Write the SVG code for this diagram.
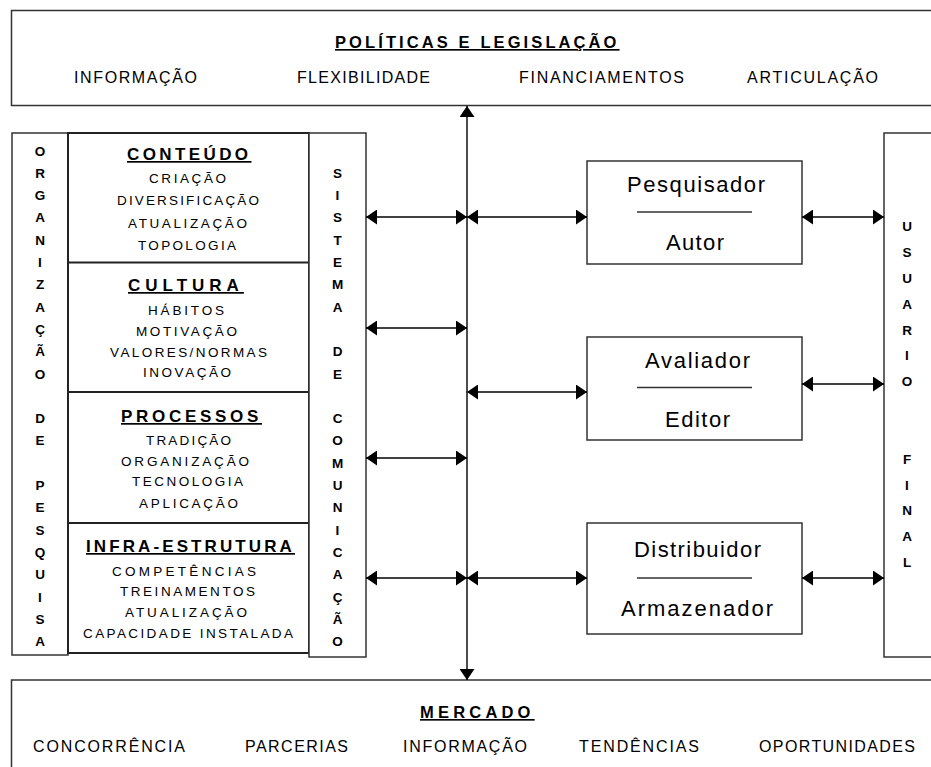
<svg xmlns="http://www.w3.org/2000/svg" width="931" height="767" viewBox="0 0 931 767">
<style>
  text { font-family: "Liberation Sans", Arial, sans-serif; fill: #000; }
  .box { fill: #fff; stroke: #333; stroke-width: 1.5; }
  .mid { fill: none; stroke: #222; stroke-width: 2; }
  .div { stroke: #222; stroke-width: 2; }
  .title { font-size: 16.5px; font-weight: bold; text-decoration: underline; }
  .item { font-size: 16px; }
  .stitle { font-size: 17px; font-weight: bold; text-decoration: underline; }
  .sitem { font-size: 13.5px; }
  .col { font-size: 13.5px; font-weight: bold; text-anchor: middle; }
  .role { font-size: 22px; }
  .sep { stroke: #333; stroke-width: 1.3; }
  .conn { stroke: #000; stroke-width: 1.4; fill: none; marker-start: url(#ah); marker-end: url(#ah); }
</style>
<defs>
  <marker id="ah" viewBox="0 0 11 15" refX="11" refY="7.5" markerWidth="11" markerHeight="15" markerUnits="userSpaceOnUse" orient="auto-start-reverse">
    <path d="M0,0 L11,7.5 L0,15 z" fill="#000"/>
  </marker>
</defs>
<rect width="931" height="767" fill="#fff"/>

<g id="politicas">
  <rect class="box" x="11.5" y="10.5" width="930" height="95"/>
  <text class="title" x="335" y="48" letter-spacing="3.1">POLÍTICAS E LEGISLAÇÃO</text>
  <text class="item" x="74" y="83" textLength="123" lengthAdjust="spacing">INFORMAÇÃO</text>
  <text class="item" x="297" y="83" textLength="133" lengthAdjust="spacing">FLEXIBILIDADE</text>
  <text class="item" x="519" y="83" textLength="165" lengthAdjust="spacing">FINANCIAMENTOS</text>
  <text class="item" x="747" y="83" textLength="131" lengthAdjust="spacing">ARTICULAÇÃO</text>
</g>

<g id="mercado">
  <rect class="box" x="11.5" y="680" width="930" height="100"/>
  <text class="title" x="420" y="718" letter-spacing="4.2">MERCADO</text>
  <text class="item" x="33" y="752" textLength="152" lengthAdjust="spacing">CONCORRÊNCIA</text>
  <text class="item" x="245" y="752" textLength="103" lengthAdjust="spacing">PARCERIAS</text>
  <text class="item" x="403" y="752" textLength="124" lengthAdjust="spacing">INFORMAÇÃO</text>
  <text class="item" x="579" y="752" textLength="120" lengthAdjust="spacing">TENDÊNCIAS</text>
  <text class="item" x="759" y="752" textLength="156" lengthAdjust="spacing">OPORTUNIDADES</text>
</g>

<g id="organizacao">
  <rect class="box" x="12" y="133" width="56" height="522"/>
  <text class="col">
    <tspan x="40" y="155.5">O</tspan><tspan x="40" y="177.8">R</tspan><tspan x="40" y="200.1">G</tspan><tspan x="40" y="222.4">A</tspan><tspan x="40" y="244.7">N</tspan><tspan x="40" y="267">I</tspan><tspan x="40" y="289.3">Z</tspan><tspan x="40" y="311.6">A</tspan><tspan x="40" y="333.9">Ç</tspan><tspan x="40" y="356.2">Ã</tspan><tspan x="40" y="378.5">O</tspan><tspan x="40" y="423.1">D</tspan><tspan x="40" y="445.4">E</tspan><tspan x="40" y="490">P</tspan><tspan x="40" y="512.3">E</tspan><tspan x="40" y="534.6">S</tspan><tspan x="40" y="556.9">Q</tspan><tspan x="40" y="579.2">U</tspan><tspan x="40" y="601.5">I</tspan><tspan x="40" y="623.8">S</tspan><tspan x="40" y="646.1">A</tspan>
  </text>
</g>

<g id="fatores">
  <rect class="mid" x="68" y="133" width="241" height="520"/>
  <line class="div" x1="68" y1="262.5" x2="309" y2="262.5"/>
  <line class="div" x1="68" y1="392" x2="309" y2="392"/>
  <line class="div" x1="68" y1="523" x2="309" y2="523"/>
</g>

<g id="conteudo">
  <text class="stitle" x="127" y="160" letter-spacing="3.4">CONTEÚDO</text>
  <text class="sitem" x="149" y="183" textLength="77" lengthAdjust="spacing">CRIAÇÃO</text>
  <text class="sitem" x="117" y="205" textLength="142" lengthAdjust="spacing">DIVERSIFICAÇÃO</text>
  <text class="sitem" x="128" y="227.5" textLength="119" lengthAdjust="spacing">ATUALIZAÇÃO</text>
  <text class="sitem" x="138" y="250" textLength="98" lengthAdjust="spacing">TOPOLOGIA</text>
</g>

<g id="cultura">
  <text class="stitle" x="128" y="291" letter-spacing="5">CULTURA</text>
  <text class="sitem" x="148" y="315" textLength="76" lengthAdjust="spacing">HÁBITOS</text>
  <text class="sitem" x="136" y="336" textLength="101" lengthAdjust="spacing">MOTIVAÇÃO</text>
  <text class="sitem" x="110" y="357" textLength="157" lengthAdjust="spacing">VALORES/NORMAS</text>
  <text class="sitem" x="143" y="377" textLength="88" lengthAdjust="spacing">INOVAÇÃO</text>
</g>

<g id="processos">
  <text class="stitle" x="121" y="422" letter-spacing="3.7">PROCESSOS</text>
  <text class="sitem" x="146" y="445" textLength="85" lengthAdjust="spacing">TRADIÇÃO</text>
  <text class="sitem" x="121" y="466" textLength="128" lengthAdjust="spacing">ORGANIZAÇÃO</text>
  <text class="sitem" x="132" y="486" textLength="111" lengthAdjust="spacing">TECNOLOGIA</text>
  <text class="sitem" x="139" y="508" textLength="99" lengthAdjust="spacing">APLICAÇÃO</text>
</g>

<g id="infraestrutura">
  <text class="stitle" x="86" y="552" letter-spacing="3.1">INFRA-ESTRUTURA</text>
  <text class="sitem" x="112" y="576" textLength="144" lengthAdjust="spacing">COMPETÊNCIAS</text>
  <text class="sitem" x="120" y="596" textLength="135" lengthAdjust="spacing">TREINAMENTOS</text>
  <text class="sitem" x="125" y="617" textLength="122" lengthAdjust="spacing">ATUALIZAÇÃO</text>
  <text class="sitem" x="83" y="638" textLength="210" lengthAdjust="spacing">CAPACIDADE INSTALADA</text>
</g>

<g id="sistema">
  <rect class="box" x="309" y="133" width="57" height="524"/>
  <text class="col">
    <tspan x="337.5" y="177.8">S</tspan><tspan x="337.5" y="200.1">I</tspan><tspan x="337.5" y="222.4">S</tspan><tspan x="337.5" y="244.7">T</tspan><tspan x="337.5" y="267">E</tspan><tspan x="337.5" y="289.3">M</tspan><tspan x="337.5" y="311.6">A</tspan><tspan x="337.5" y="356.2">D</tspan><tspan x="337.5" y="378.5">E</tspan><tspan x="337.5" y="423.1">C</tspan><tspan x="337.5" y="445.4">O</tspan><tspan x="337.5" y="467.7">M</tspan><tspan x="337.5" y="490">U</tspan><tspan x="337.5" y="512.3">N</tspan><tspan x="337.5" y="534.6">I</tspan><tspan x="337.5" y="556.9">C</tspan><tspan x="337.5" y="579.2">A</tspan><tspan x="337.5" y="601.5">Ç</tspan><tspan x="337.5" y="623.8">Ã</tspan><tspan x="337.5" y="646.1">O</tspan>
  </text>
</g>

<g id="pesquisador">
  <rect class="box" x="587" y="161" width="215" height="103"/>
  <text class="role" x="627" y="191.5" textLength="138" lengthAdjust="spacing">Pesquisador</text>
  <line class="sep" x1="637" y1="212" x2="752" y2="212"/>
  <text class="role" x="666" y="250" textLength="58" lengthAdjust="spacing">Autor</text>
</g>

<g id="avaliador">
  <rect class="box" x="587" y="337" width="215" height="103"/>
  <text class="role" x="645" y="367.5" textLength="105" lengthAdjust="spacing">Avaliador</text>
  <line class="sep" x1="637" y1="387.5" x2="752" y2="387.5"/>
  <text class="role" x="665" y="427" textLength="65" lengthAdjust="spacing">Editor</text>
</g>

<g id="distribuidor">
  <rect class="box" x="587" y="523" width="215" height="111"/>
  <text class="role" x="634" y="557" textLength="127" lengthAdjust="spacing">Distribuidor</text>
  <line class="sep" x1="637" y1="578" x2="752" y2="578"/>
  <text class="role" x="621" y="616" textLength="152" lengthAdjust="spacing">Armazenador</text>
</g>

<g id="usuario">
  <rect class="box" x="884" y="133" width="60" height="524"/>
  <text class="col">
    <tspan x="907" y="231">U</tspan><tspan x="907" y="257">S</tspan><tspan x="907" y="283">U</tspan><tspan x="907" y="309">A</tspan><tspan x="907" y="335">R</tspan><tspan x="907" y="360">I</tspan><tspan x="907" y="386">O</tspan><tspan x="907" y="464">F</tspan><tspan x="907" y="490">I</tspan><tspan x="907" y="515">N</tspan><tspan x="907" y="541">A</tspan><tspan x="907" y="567">L</tspan>
  </text>
</g>

<g id="connectors">
  <line class="conn" x1="467" y1="106" x2="467" y2="680"/>
  <line class="conn" x1="366" y1="217" x2="467" y2="217"/>
  <line class="conn" x1="467" y1="217" x2="587" y2="217"/>
  <line class="conn" x1="802" y1="217" x2="884" y2="217"/>
  <line class="conn" x1="366" y1="328" x2="467" y2="328"/>
  <line class="conn" x1="467" y1="392" x2="587" y2="392"/>
  <line class="conn" x1="802" y1="384" x2="884" y2="384"/>
  <line class="conn" x1="366" y1="458" x2="467" y2="458"/>
  <line class="conn" x1="366" y1="578" x2="467" y2="578"/>
  <line class="conn" x1="467" y1="578" x2="587" y2="578"/>
  <line class="conn" x1="802" y1="578" x2="884" y2="578"/>
</g>
</svg>
